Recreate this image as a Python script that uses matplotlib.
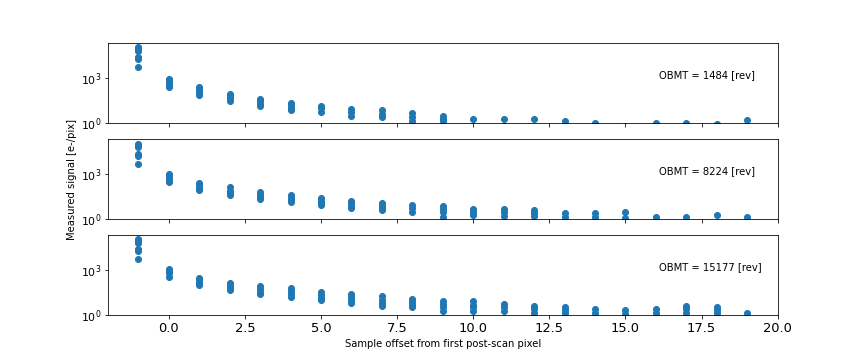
import matplotlib
matplotlib.use("Agg")
import matplotlib.pyplot as plt
import numpy as np

# Sample offsets from the first post-scan pixel
offsets = list(range(-1, 20))

# Measured signal per offset [e-/pix], one list per offset, for each OBMT
signal_1484 = [
    [120000, 89000, 71000, 28000, 19000, 5500],
    [950, 790, 590, 400, 275],
    [245, 200, 160, 115, 76],
    [89, 63, 45, 30],
    [41, 28, 20, 14],
    [23, 16, 11, 7.4],
    [14.5, 10, 5.8],
    [8.7, 5.6, 3.1],
    [7.1, 4.0, 2.4],
    [4.5, 2.5, 1.5],
    [3.0, 1.8, 1.45],
    [1.8, 0.6],
    [1.85, 0.6],
    [1.8, 0.5],
    [1.35, 0.5],
    [1.05, 0.4],
    [0.6],
    [1.05, 0.5],
    [1.05, 0.5],
    [0.9],
    [1.6, 0.6],
]

signal_8224 = [
    [110000, 85000, 66000, 24000, 17000, 5100],
    [1100, 690, 450, 310],
    [275, 186, 126, 85],
    [129, 79, 56, 38],
    [60, 40, 28, 21],
    [38, 25, 18, 13.5],
    [24, 16, 11, 8.5],
    [16.6, 11.2, 7.6, 5.4],
    [11.7, 7.9, 5.6, 4.0],
    [8.5, 5.6, 3.2],
    [7.4, 4.5, 3.0, 1.45],
    [4.7, 2.8, 1.75],
    [4.6, 2.9, 1.7],
    [4.0, 2.5, 1.5],
    [2.4, 1.3],
    [2.4, 1.3],
    [3.0, 1.1],
    [1.35],
    [1.35],
    [1.85],
    [1.35],
]

signal_15177 = [
    [117000, 89000, 66000, 27500, 20000, 5500],
    [1230, 890, 630, 330],
    [316, 224, 141, 100],
    [145, 89, 63, 47],
    [87, 56, 35, 25],
    [60, 40, 25, 16.6],
    [35, 22, 14, 9.8],
    [26, 16, 10, 6.8],
    [17.4, 10, 6.3, 4.1],
    [12.6, 7.1, 4.5, 3.2],
    [8.9, 5.6, 3.5, 1.95],
    [8.3, 5.0, 3.2, 1.8],
    [5.2, 3.2, 1.8],
    [4.1, 2.5, 1.45],
    [3.5, 2.2, 1.45],
    [2.7, 1.45],
    [2.1, 1.2],
    [2.7, 1.45],
    [4.1, 2.5, 1.45],
    [3.6, 2.2, 1.45],
    [1.3],
]

obmt_values = [1484, 8224, 15177]
signals = [signal_1484, signal_8224, signal_15177]


def flatten(offsets, signal):
    xs, ys = [], []
    for x, vals in zip(offsets, signal):
        for v in vals:
            xs.append(x)
            ys.append(v)
    return np.array(xs), np.array(ys)


fig, axes = plt.subplots(3, 1, sharex=True, figsize=(12, 5), dpi=72)
fig.subplots_adjust(left=0.125, right=0.9, top=0.88, bottom=0.125, hspace=0.2)

for ax, obmt, signal in zip(axes, obmt_values, signals):
    xs, ys = flatten(offsets, signal)
    ax.scatter(xs, ys)
    ax.set_yscale("log")
    ax.set_ylim(1, 2.2e5)
    ax.set_yticks([1, 1000])
    ax.yaxis.set_minor_locator(matplotlib.ticker.NullLocator())
    ax.tick_params(axis="y", labelsize=11)
    ax.text(16.1, 1000, f"OBMT = {obmt} [rev]", fontsize=10)

axes[1].set_ylabel("Measured signal [e-/pix]", fontsize=10)
axes[2].set_xlabel("Sample offset from first post-scan pixel", fontsize=10)
axes[2].set_xlim(-2, 20)
axes[2].tick_params(axis="x", labelsize=13)

plt.savefig("out.png", dpi=72)
